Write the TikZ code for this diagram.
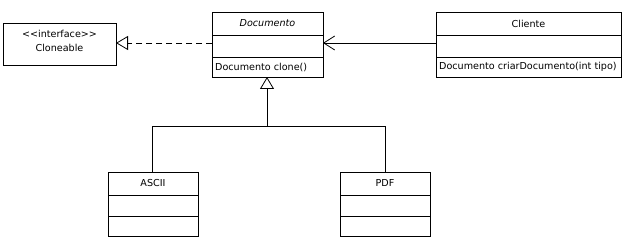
\documentclass[tikz,border=0pt]{standalone}
\usepackage{fontspec}
\setmainfont[Ligatures=ResetAll]{DejaVu Sans}
\usetikzlibrary{arrows.meta}
\begin{document}
\begin{tikzpicture}[x=1pt,y=-1pt,
  box/.style={draw,line width=0.8pt},
  lbl/.style={font=\fontsize{9.6}{11}\selectfont,inner sep=0pt},
  ln/.style={line width=0.8pt},
  inh/.style={-{Triangle[open,length=12pt,width=14pt]}},
  dep/.style={-{Straight Barb[length=11pt,width=14pt,line width=0.8pt]}}]
\useasboundingbox (0,0) rectangle (625,240);
% Cloneable
\draw[box] (3,23) rectangle (116,65);
\node[lbl] (cl) at (59.5,34) {<\kern0pt<interface>\kern0pt>};
\node[lbl] at (59.5,48) {Cloneable};
\coordinate (clR) at (116,43);
% Documento
\draw[box] (212,12) rectangle (323,77);
\draw[ln] (212,35) -- (323,35);
\draw[ln] (212,57) -- (323,57);
\node[lbl,font=\fontsize{9.6}{11}\selectfont\itshape] (doc) at (267.5,23.5) {Documento};
\node[lbl,anchor=west] at (215,67) {Documento clone()};
\coordinate (docL) at (212,43);
\coordinate (docR) at (323,43);
\coordinate (docB) at (267,77);
% Cliente
\draw[box] (436,12) rectangle (621,77);
\draw[ln] (436,35) -- (621,35);
\draw[ln] (436,57) -- (621,57);
\node[lbl] (cli) at (528.5,23.5) {Cliente};
\node[lbl,anchor=west] at (439,67) {Documento criarDocumento(int tipo)};
\coordinate (cliL) at (436,43);
% ASCII
\draw[box] (108,172) rectangle (198,236);
\draw[ln] (108,195) -- (198,195);
\draw[ln] (108,216) -- (198,216);
\node[lbl] (ascii) at (153,183.5) {ASCII};
\coordinate (asciiT) at (152,172);
% PDF
\draw[box] (340,172) rectangle (430,236);
\draw[ln] (340,195) -- (430,195);
\draw[ln] (340,216) -- (430,216);
\node[lbl] (pdf) at (385,183.5) {PDF};
\coordinate (pdfT) at (385,172);
% connectors
\draw[ln,dashed,dash pattern=on 6pt off 4pt,inh] (docL) -- (clR);
\draw[ln,dep] (cliL) -- (docR);
\coordinate (j) at (267,126.5);
\draw[ln,inh] (j) -- (docB);
\draw[ln] (asciiT) |- (j) -| (pdfT);
\end{tikzpicture}
\end{document}
